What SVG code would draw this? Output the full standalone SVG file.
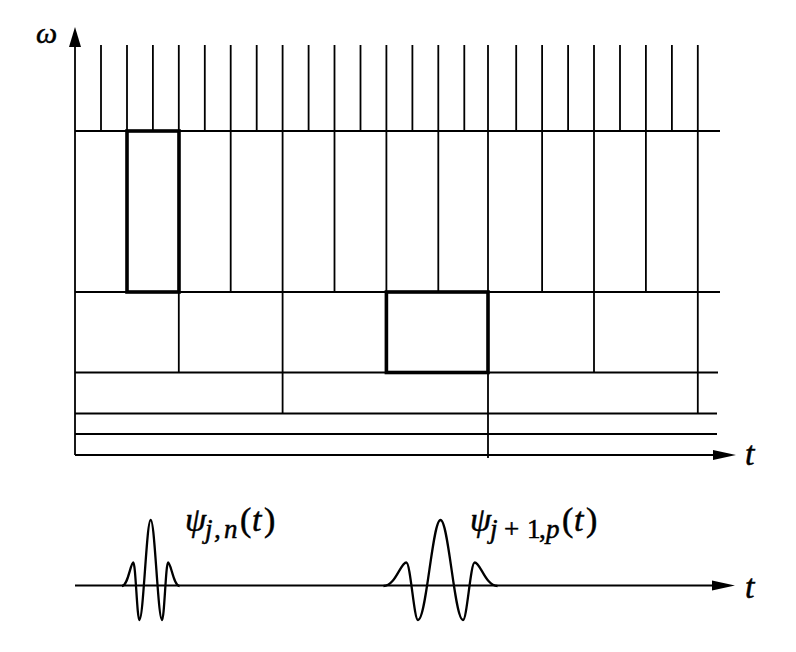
<svg xmlns="http://www.w3.org/2000/svg" width="796" height="652" viewBox="0 0 796 652">
<style>
.ln{stroke:#000;stroke-width:1.8;fill:none;stroke-linecap:butt}
.bx{stroke:#000;stroke-width:3.6;fill:none}
.wv{stroke:#000;stroke-width:2.3;fill:none;stroke-linejoin:round}
.ah{fill:#000;stroke:none}
.it{font-style:italic}
</style>
<rect width="796" height="652" fill="#fff"/>
<g id="connectors">
<g id="axes">
<path class="ln" d="M75,455 V45"/>
<polygon class="ah" points="75,27 69,47 81,47"/>
<path class="ln" d="M75,455 H714"/>
<polygon class="ah" points="736,455 713,450 713,460"/>
<path class="ln" d="M75,585.5 H713"/>
<polygon class="ah" points="735,585.5 712,580.5 712,590.5"/>
</g>
<g id="horizontal-lines">
<path class="ln" d="M75,131 H720 M75,292 H720 M75,372.5 H718 M75,413.5 H717 M75,434 H717"/>
</g>
<g id="row-top">
<path class="ln" d="M101,45V131 M127,45V131 M152.9,45V131 M178.8,45V131 M204.8,45V131 M230.7,45V131 M256.7,45V131 M282.6,45V131 M308.6,45V131 M334.5,45V131 M360.5,45V131 M386.4,45V131 M412.4,45V131 M438.3,45V131 M464.3,45V131 M488,45V131 M516.2,45V131 M542.1,45V131 M568.1,45V131 M594,45V131 M620,45V131 M645.9,45V131 M671.9,45V131 M697.8,45V131"/>
</g>
<g id="row-2">
<path class="ln" d="M127,131V292 M178.8,131V292 M230.7,131V292 M282.6,131V292 M334.5,131V292 M386.4,131V292 M438.3,131V292 M542.1,131V292 M594,131V292 M645.9,131V292 M697.8,131V292"/>
</g>
<g id="row-3">
<path class="ln" d="M178.8,292V372.5 M282.6,292V413.5 M594,292V372.5 M697.8,292V413.5"/>
</g>
<path class="ln" d="M488,131V458"/>
</g>
<g id="box-jn"><rect class="bx" x="127" y="131" width="52" height="161"/></g>
<g id="box-j1p"><rect class="bx" x="386.4" y="292" width="101.6" height="80.5"/></g>
<g id="wavelet-jn">
<path class="wv" d="M122,586 C128,586 130.5,562.5 133.4,562.5 C135.5,562.5 137.2,620 139.3,620 C143.5,620 146.5,520 150.7,520 C154.9,520 157.9,620 162.1,620 C164.2,620 165.9,562.5 168,562.5 C171,562.5 173.5,586 179.5,586"/>
</g>
<g id="wavelet-j1p">
<path class="wv" d="M383.5,586 C395.5,586 400.5,562.5 406.3,562.5 C410.5,562.5 414,620 418,620 C426.4,620 432.4,520 440.5,520 C448.6,520 454.6,620 463,620 C467,620 470.5,562.5 474.7,562.5 C480.5,562.5 485.5,586 497.5,586"/>
</g>
<g id="labels" font-family="'Liberation Serif', 'DejaVu Serif', serif" fill="#000" stroke="#000" stroke-width="0.5">
<text class="it" x="36" y="43" font-size="30">ω</text>
<text class="it" x="745" y="465" font-size="34">t</text>
<text class="it" x="745" y="597.5" font-size="34">t</text>
<text font-size="34" y="531"><tspan class="it" x="185">ψ</tspan><tspan class="it" x="205" y="538" font-size="27">j</tspan><tspan class="it" x="214" y="538" font-size="27">,</tspan><tspan class="it" x="224" y="538" font-size="27">n</tspan><tspan x="240" y="531">(</tspan><tspan class="it" x="252">t</tspan><tspan x="264">)</tspan></text>
<text font-size="34" y="531"><tspan class="it" x="470">ψ</tspan><tspan class="it" x="490" y="538" font-size="27">j</tspan><tspan x="504" y="538" font-size="27">+</tspan><tspan x="527" y="538" font-size="27">1</tspan><tspan x="539" y="538" font-size="27">,</tspan><tspan class="it" x="546" y="538" font-size="27">p</tspan><tspan x="562" y="531">(</tspan><tspan class="it" x="574">t</tspan><tspan x="586">)</tspan></text>
</g>
</svg>
